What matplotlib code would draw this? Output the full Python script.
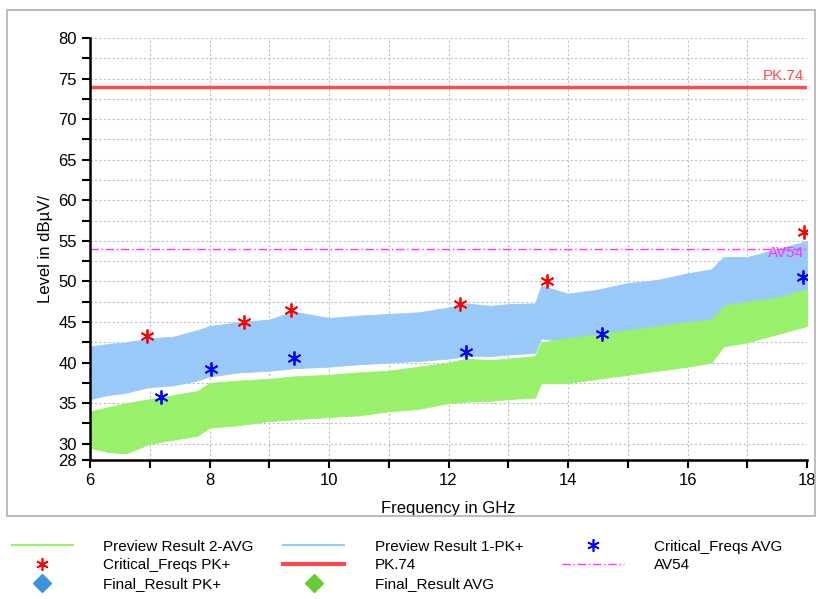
import matplotlib
matplotlib.use("Agg")
import matplotlib.pyplot as plt
from matplotlib.lines import Line2D
from matplotlib.patches import Rectangle

plt.rcParams["font.family"] = ["Liberation Sans", "DejaVu Sans"]

# Envelope of the noisy preview traces (GHz, dBuV)
freq = [6.0, 6.3, 6.6, 7.0, 7.4, 7.8, 8.0, 8.5, 9.0, 9.4, 10.0, 10.5, 11.0, 11.5,
        12.0, 12.3, 12.7, 13.0, 13.45, 13.55, 14.0, 14.5, 15.0, 15.5, 16.0,
        16.4, 16.6, 17.0, 17.5, 18.0]
pk_low = [35.5, 36.0, 36.3, 37.0, 37.2, 37.8, 38.3, 38.8, 39.0, 39.3, 39.5, 39.8, 40.0, 40.2,
          40.5, 40.8, 40.8, 41.0, 41.2, 43.0, 42.5, 43.0, 43.5, 44.0, 44.5,
          45.0, 46.0, 47.0, 48.0, 49.0]
pk_high = [42.0, 42.3, 42.5, 43.0, 43.2, 44.0, 44.5, 45.0, 45.3, 46.3, 45.5, 45.8, 46.0, 46.2,
           46.8, 47.3, 47.0, 47.2, 47.3, 49.5, 48.5, 49.0, 49.8, 50.2, 51.0,
           51.5, 53.0, 53.0, 54.0, 55.0]
av_low = [29.5, 29.0, 28.8, 30.0, 30.5, 31.0, 32.0, 32.3, 32.8, 33.0, 33.3, 33.5, 34.0, 34.3,
          35.0, 35.2, 35.3, 35.5, 35.7, 37.5, 37.5, 38.0, 38.5, 39.0, 39.5,
          40.0, 42.0, 42.5, 43.5, 44.5]
av_high = [34.0, 34.5, 35.0, 35.5, 36.0, 36.5, 37.5, 37.8, 38.0, 38.3, 38.5, 38.8, 39.0, 39.5,
           40.0, 40.5, 40.3, 40.5, 40.8, 42.5, 43.0, 43.5, 44.0, 44.5, 45.0,
           45.3, 47.0, 47.5, 48.0, 49.0]

crit_pk_f = [6.95, 8.57, 9.37, 12.2, 13.65, 17.95]
crit_pk_v = [43.3, 45.0, 46.5, 47.2, 50.0, 56.1]
crit_av_f = [7.18, 8.03, 9.42, 12.3, 14.57, 17.93]
crit_av_v = [35.8, 39.2, 40.6, 41.3, 43.5, 50.6]

limit_pk = 74
limit_av = 54

fig = plt.figure(figsize=(8.22, 5.99), dpi=100)
fig.patches.append(Rectangle((7 / 822, 1 - 516 / 599), 808 / 822, 506 / 599,
                             transform=fig.transFigure, fill=False,
                             edgecolor="#b0b0b0", linewidth=1.2))
ax = fig.add_axes([90 / 822, 1 - 460 / 599, 717 / 822, 422 / 599])

blue = "#99c9f8"
green = "#99f06a"
ax.fill_between(freq, pk_low, pk_high, color=blue, linewidth=0.6)
ax.fill_between(freq, av_low, av_high, color=green, linewidth=0.6)
ax.axhline(limit_pk, color="#ff4a4a", linewidth=2.5)
ax.axhline(limit_av, color="#ff33ff", linewidth=1, linestyle=(0, (6, 2, 1, 2)))
ax.text(17.95, limit_pk + 0.4, "PK.74", color="#ff4a4a", ha="right", va="bottom", fontsize=11)
ax.text(17.95, limit_av + 0.4, "AV54", color="#ff33ff", ha="right", va="top", fontsize=11)
ax.plot(crit_pk_f, crit_pk_v, linestyle="none", marker=(6, 2, 0), color="red",
        markersize=10, markeredgewidth=1.3)
ax.plot(crit_av_f, crit_av_v, linestyle="none", marker=(6, 2, 0), color="blue",
        markersize=10, markeredgewidth=1.3)

ax.set_xlim(6, 18)
ax.set_ylim(28, 80)
ax.set_xticks(range(6, 19, 2))
ax.set_xticks(range(6, 19), minor=True)
ax.set_yticks([28, 30, 35, 40, 45, 50, 55, 60, 65, 70, 75, 80])
minor_y = [32.5 + 5 * i for i in range(10)]
ax.set_yticks(minor_y, minor=True)
ax.tick_params(labelsize=12, width=1.5, length=6)
ax.tick_params(which="minor", width=1.5, length=6)
ax.grid(True, which="both", axis="x", color="#c0c0c0", linestyle=(0, (2, 2)), linewidth=0.8)
ax.grid(True, which="major", axis="y", color="#c0c0c0", linestyle=(0, (2, 2)), linewidth=0.8)
for y in minor_y:
    ax.axhline(y, color="#c0c0c0", linestyle=(0, (2, 2)), linewidth=0.8, zorder=0)
ax.set_axisbelow(True)
for s in ["top", "right"]:
    ax.spines[s].set_visible(False)
ax.spines["left"].set_linewidth(1.8)
ax.spines["bottom"].set_linewidth(1.8)
ax.set_xlabel("Frequency in GHz", fontsize=12, labelpad=9)
ax.set_ylabel("Level in dBµV/", fontsize=12)

star = dict(linestyle="none", marker=(6, 2, 0), markersize=9, markeredgewidth=1.2)
columns = [
    (0.005, [Line2D([], [], color=green, linewidth=1.5),
             Line2D([], [], color="red", **star),
             Line2D([], [], linestyle="none", marker="D", color="#3f94d8", markersize=9)],
     ["Preview Result 2-AVG", "Critical_Freqs PK+", "Final_Result PK+"]),
    (0.335, [Line2D([], [], color=blue, linewidth=1.5),
             Line2D([], [], color="#ff4a4a", linewidth=3),
             Line2D([], [], linestyle="none", marker="D", color="#66cc33", markersize=9)],
     ["Preview Result 1-PK+", "PK.74", "Final_Result AVG"]),
    (0.675, [Line2D([], [], color="blue", **star),
             Line2D([], [], color="#ff33ff", linewidth=1, linestyle=(0, (6, 2, 1, 2)))],
     ["Critical_Freqs AVG", "AV54"]),
]
for x0, hs, ls in columns:
    fig.legend(hs, ls, loc="upper left", bbox_to_anchor=(x0, 0.112),
               frameon=False, fontsize=11, handlelength=4.0, labelspacing=0.32,
               handletextpad=2.0, borderpad=0)

fig.savefig("out.png", dpi=100)
